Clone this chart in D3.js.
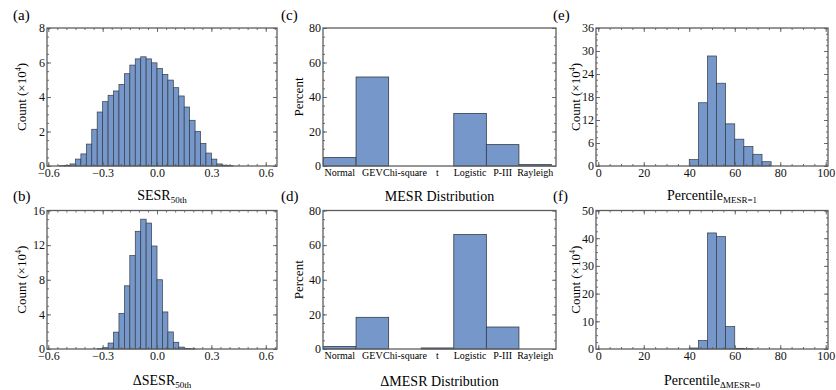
<!DOCTYPE html>
<html>
<head>
<meta charset="utf-8">
<script src="https://cdn.jsdelivr.net/npm/d3@7"></script>
<style>
body { margin: 0; background: #fff; }
svg, svg text { font-family: "Liberation Serif", "DejaVu Serif", "Times New Roman", Times, serif; }
</style>
</head>
<body>
<svg id="fig" width="836" height="390"></svg>
<script>
// counts are in units of 10^4, distribution shares in percent

const sesrBinStart = [-0.54, -0.51, -0.48, -0.45, -0.42, -0.39, -0.36, -0.33, -0.30, -0.27, -0.24,
    -0.21, -0.18, -0.15, -0.12, -0.09, -0.06, -0.03, 0.00, 0.03, 0.06, 0.09, 0.12, 0.15,
    0.18, 0.21, 0.24, 0.27, 0.30, 0.33, 0.36, 0.39];
const sesrCount = [0.02, 0.04, 0.12, 0.40, 0.70, 1.27, 2.13, 3.13, 3.73, 4.10, 4.35,
    4.73, 5.35, 5.85, 6.21, 6.33, 6.21, 5.98, 5.65, 5.31, 4.98, 4.54, 4.06, 3.42,
    2.65, 2.00, 1.31, 0.75, 0.40, 0.12, 0.05, 0.02];

const dsesrBinStart = [-0.33, -0.30, -0.27, -0.24, -0.21, -0.18, -0.15, -0.12, -0.09, -0.06,
    -0.03, 0.00, 0.03, 0.06, 0.09, 0.12, 0.15, 0.18];
const dsesrCount = [0.04, 0.15, 0.69, 1.95, 4.12, 7.30, 10.8, 13.6, 15.0, 14.55,
    11.9, 8.0, 4.28, 1.97, 0.78, 0.22, 0.07, 0.03];

const distNames = ["Normal", "GEV", "Chi-square", "t", "Logistic", "P-III", "Rayleigh"];
const mesrPercent = [4.9, 51.6, 0, 0, 30.5, 12.4, 0.8];
const dmesrPercent = [1.5, 18.3, 0, 0.6, 66.1, 12.7, 0];

const pctMesrBinStart = [40, 44, 48, 52, 56, 60, 64, 68, 72];
const pctMesrCount = [1.66, 16.5, 28.7, 21.6, 11.0, 7.0, 5.1, 3.06, 1.12];

const pctDmesrBinStart = [40, 44, 48, 52, 56, 60, 64];
const pctDmesrCount = [0.36, 3.1, 41.9, 40.6, 8.1, 0.25, 0.08];

const serif = '"Liberation Serif", "DejaVu Serif", "Times New Roman", Times, serif';

const svg = d3.select("#fig").attr("font-family", serif);

const barFill = "#7597c9";
const barEdge = "#353b45";
const frameColor = "#5e5e5e";

function styleAxis(a, size) {
    a.select(".domain").remove();
    a.attr("font-family", serif).attr("font-size", size);
    a.selectAll("line").attr("stroke", frameColor).attr("stroke-width", 0.9);
    a.selectAll("text").attr("fill", "#111");
}

function drawFrame(g, x, y, box, o) {
    // bottom + top
    if (x) {
        g.append("g").attr("transform", `translate(0,${box.bottom})`)
            .call(d3.axisBottom(x).tickValues(o.xTicks).tickSize(-4).tickPadding(2).tickFormat(o.xFormat))
            .call(a => styleAxis(a, 12));
        g.append("g").attr("transform", `translate(0,${box.bottom})`)
            .call(d3.axisBottom(x).tickValues(o.xMinor).tickSize(-2).tickFormat(""))
            .call(a => styleAxis(a, 12));
        g.append("g").attr("transform", `translate(0,${box.top})`)
            .call(d3.axisTop(x).tickValues(o.xTicks).tickSize(-4).tickFormat(""))
            .call(a => styleAxis(a, 12));
        g.append("g").attr("transform", `translate(0,${box.top})`)
            .call(d3.axisTop(x).tickValues(o.xMinor).tickSize(-2).tickFormat(""))
            .call(a => styleAxis(a, 12));
    }
    // left + right
    g.append("g").attr("transform", `translate(${box.left},0)`)
        .call(d3.axisLeft(y).tickValues(o.yTicks).tickSize(-4).tickPadding(2).tickFormat(d3.format("d")))
        .call(a => styleAxis(a, 12));
    g.append("g").attr("transform", `translate(${box.left},0)`)
        .call(d3.axisLeft(y).tickValues(o.yMinor).tickSize(-2).tickFormat(""))
        .call(a => styleAxis(a, 12));
    g.append("g").attr("transform", `translate(${box.right},0)`)
        .call(d3.axisRight(y).tickValues(o.yTicks).tickSize(-4).tickFormat(""))
        .call(a => styleAxis(a, 12));
    g.append("g").attr("transform", `translate(${box.right},0)`)
        .call(d3.axisRight(y).tickValues(o.yMinor).tickSize(-2).tickFormat(""))
        .call(a => styleAxis(a, 12));

    g.append("rect")
        .attr("x", box.left).attr("y", box.top)
        .attr("width", box.right - box.left).attr("height", box.bottom - box.top)
        .attr("fill", "none").attr("stroke", frameColor).attr("stroke-width", 1.3);
}

function labels(g, box, o) {
    g.append("text").attr("x", o.tagX).attr("y", o.tagY)
        .attr("font-family", serif).attr("font-size", 15).text(o.tag);

    const yl = g.append("text")
        .attr("transform", `translate(${o.yLabelX},${(box.top + box.bottom) / 2}) rotate(-90)`)
        .attr("text-anchor", "middle").attr("font-family", serif).attr("font-size", 13);
    if (o.yLabel === "Count") {
        yl.append("tspan").text("Count (×10");
        yl.append("tspan").attr("font-size", 8).attr("dy", -5).text("4");
        yl.append("tspan").attr("dy", 5).text(")");
    } else {
        yl.text(o.yLabel);
    }

    const t = g.append("text")
        .attr("x", (box.left + box.right) / 2).attr("y", o.titleY)
        .attr("text-anchor", "middle").attr("font-family", serif).attr("font-size", 14);
    t.append("tspan").text(o.title);
    if (o.titleSub) {
        t.append("tspan").attr("font-size", 9).attr("dy", 3).text(o.titleSub);
    }
}

function histPanel(o) {
    const box = o.box;
    const g = svg.append("g");
    const x = d3.scaleLinear().domain(o.xDomain).range([box.left, box.right]);
    const y = d3.scaleLinear().domain(o.yDomain).range([box.bottom, box.top]);

    g.selectAll("rect.bar")
        .data(o.starts.map((s, i) => ({ s, v: o.counts[i] })))
        .join("rect")
        .attr("class", "bar")
        .attr("x", d => x(d.s))
        .attr("width", d => x(d.s + o.binW) - x(d.s))
        .attr("y", d => y(d.v))
        .attr("height", d => y(0) - y(d.v))
        .attr("fill", barFill)
        .attr("stroke", barEdge)
        .attr("stroke-width", 0.7);

    drawFrame(g, x, y, box, o);
    labels(g, box, o);
}

function catPanel(o) {
    const box = o.box;
    const g = svg.append("g");
    const x = d3.scaleBand().domain(distNames).range([box.left + 0.5, box.right - 4.5]).padding(0);
    const y = d3.scaleLinear().domain(o.yDomain).range([box.bottom, box.top]);

    g.selectAll("rect.bar")
        .data(distNames.map((n, i) => ({ n, v: o.values[i] })))
        .join("rect")
        .attr("class", "bar")
        .attr("x", d => x(d.n))
        .attr("width", x.bandwidth())
        .attr("y", d => y(d.v))
        .attr("height", d => y(0) - y(d.v))
        .attr("fill", barFill)
        .attr("stroke", barEdge)
        .attr("stroke-width", 0.8);

    drawFrame(g, null, y, box, o);

    g.selectAll("text.cat")
        .data(distNames)
        .join("text")
        .attr("class", "cat")
        .attr("x", d => x(d) + x.bandwidth() / 2)
        .attr("y", box.bottom + 9.5)
        .attr("text-anchor", "middle")
        .attr("font-family", serif)
        .attr("font-size", 10)
        .text(d => d);

    labels(g, box, o);
}

const fmt1 = d3.format(".1f");
const sesrTicks = [-0.6, -0.3, 0, 0.3, 0.6];
const sesrMinor = d3.range(-12, 14).map(i => i * 0.05);
const pctTicks = [0, 20, 40, 60, 80, 100];
const pctMinor = d3.range(0, 21).map(i => i * 5);

const rowTop = { top: 28, bottom: 166 };
const rowBot = { top: 210.5, bottom: 349 };

histPanel({
    box: { left: 47, right: 277, ...rowTop },
    starts: sesrBinStart, counts: sesrCount, binW: 0.03,
    xDomain: [-0.607, 0.662], yDomain: [0, 8],
    xTicks: sesrTicks, xMinor: sesrMinor, xFormat: fmt1,
    yTicks: [0, 2, 4, 6, 8], yMinor: d3.range(0, 17).map(i => i * 0.5),
    tag: "(a)", tagX: 13, tagY: 20,
    yLabel: "Count", yLabelX: 26,
    title: "SESR", titleSub: "50th", titleY: 200
});

histPanel({
    box: { left: 47, right: 277, ...rowBot },
    starts: dsesrBinStart, counts: dsesrCount, binW: 0.03,
    xDomain: [-0.607, 0.662], yDomain: [0, 16],
    xTicks: sesrTicks, xMinor: sesrMinor, xFormat: fmt1,
    yTicks: [0, 4, 8, 12, 16], yMinor: d3.range(0, 17),
    tag: "(b)", tagX: 13, tagY: 201,
    yLabel: "Count", yLabelX: 26,
    title: "ΔSESR", titleSub: "50th", titleY: 385
});

catPanel({
    box: { left: 323, right: 556, ...rowTop },
    values: mesrPercent, yDomain: [0, 80],
    yTicks: [0, 20, 40, 60, 80], yMinor: d3.range(0, 17).map(i => i * 5),
    tag: "(c)", tagX: 281, tagY: 20,
    yLabel: "Percent", yLabelX: 303,
    title: "MESR Distribution", titleY: 201
});

catPanel({
    box: { left: 323, right: 556, ...rowBot },
    values: dmesrPercent, yDomain: [0, 80],
    yTicks: [0, 20, 40, 60, 80], yMinor: d3.range(0, 17).map(i => i * 5),
    tag: "(d)", tagX: 281, tagY: 201,
    yLabel: "Percent", yLabelX: 303,
    title: "ΔMESR Distribution", titleY: 386
});

histPanel({
    box: { left: 596, right: 828, ...rowTop },
    starts: pctMesrBinStart, counts: pctMesrCount, binW: 4,
    xDomain: [-1, 101], yDomain: [0, 36],
    xTicks: pctTicks, xMinor: pctMinor, xFormat: d3.format("d"),
    yTicks: [0, 6, 12, 18, 24, 30, 36], yMinor: d3.range(0, 25).map(i => i * 1.5),
    tag: "(e)", tagX: 553, tagY: 20,
    yLabel: "Count", yLabelX: 580,
    title: "Percentile", titleSub: "MESR=1", titleY: 200
});

histPanel({
    box: { left: 596, right: 828, ...rowBot },
    starts: pctDmesrBinStart, counts: pctDmesrCount, binW: 4,
    xDomain: [-1, 101], yDomain: [0, 50],
    xTicks: pctTicks, xMinor: pctMinor, xFormat: d3.format("d"),
    yTicks: [0, 10, 20, 30, 40, 50], yMinor: d3.range(0, 21).map(i => i * 2.5),
    tag: "(f)", tagX: 553, tagY: 201,
    yLabel: "Count", yLabelX: 580,
    title: "Percentile", titleSub: "ΔMESR=0", titleY: 385
});
</script>
</body>
</html>
